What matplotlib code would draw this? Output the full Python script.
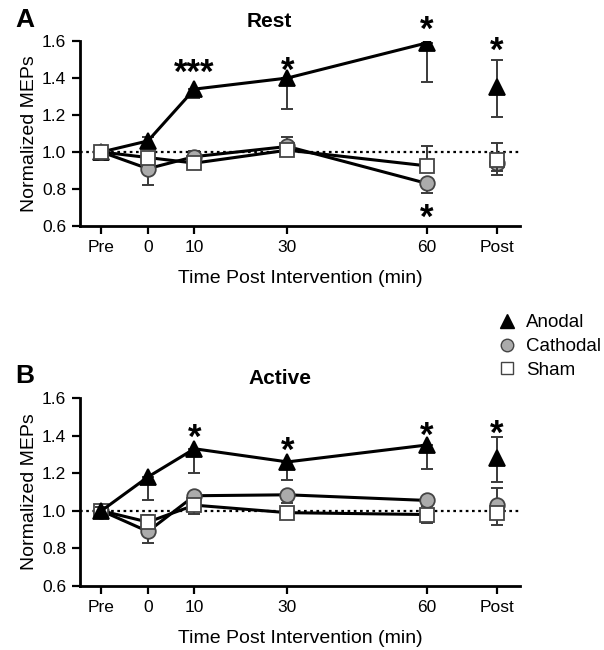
import matplotlib.pyplot as plt
import matplotlib.transforms as mtransforms
from matplotlib.lines import Line2D

plt.rcParams['font.family'] = ['Liberation Sans', 'DejaVu Sans']

# time points (Pre = -10, Post = 75 on the minute axis)
x_pos = [-10, 0, 10, 30, 60, 75]
x_labels = ["Pre", "0", "10", "30", "60", "Post"]

# Rest
rest_anodal = [1.00, 1.06, 1.34, 1.40, 1.59, 1.35]
rest_anodal_lo = [0.02, 0.02, 0.05, 0.17, 0.21, 0.16]
rest_anodal_hi = [0.02, 0.02, 0.00, 0.00, 0.00, 0.15]
rest_cathodal = [1.00, 0.91, 0.975, 1.03, 0.83, 0.94]
rest_cathodal_lo = [0.03, 0.09, 0.03, 0.02, 0.05, 0.065]
rest_cathodal_hi = [0.03, 0.02, 0.03, 0.05, 0.00, 0.00]
rest_sham = [1.00, 0.97, 0.94, 1.01, 0.925, 0.955]
rest_sham_lo = [0.03, 0.02, 0.02, 0.02, 0.00, 0.06]
rest_sham_hi = [0.03, 0.02, 0.02, 0.02, 0.11, 0.095]
rest_stars = [(10, 1.47, "***"), (30, 1.48, "*"), (60, 1.70, "*"),
              (75, 1.59, "*"), (60, 0.685, "*")]

# Active
act_anodal = [1.00, 1.18, 1.33, 1.26, 1.35, 1.28]
act_anodal_lo = [0.02, 0.125, 0.13, 0.095, 0.13, 0.125]
act_anodal_hi = [0.02, 0.00, 0.00, 0.00, 0.00, 0.11]
act_cathodal = [1.00, 0.89, 1.08, 1.085, 1.055, 1.03]
act_cathodal_lo = [0.02, 0.06, 0.03, 0.045, 0.03, 0.00]
act_cathodal_hi = [0.02, 0.00, 0.00, 0.00, 0.00, 0.09]
act_sham = [1.00, 0.94, 1.03, 0.99, 0.98, 0.99]
act_sham_lo = [0.02, 0.02, 0.045, 0.00, 0.045, 0.065]
act_sham_hi = [0.02, 0.04, 0.00, 0.00, 0.00, 0.00]
act_stars = [(10, 1.43, "*"), (30, 1.36, "*"), (60, 1.44, "*"), (75, 1.45, "*")]

STYLES = {
    "Anodal":   dict(marker="^", mfc="black", mec="black", ms=11.5),
    "Cathodal": dict(marker="o", mfc="#ababab", mec="#444444", ms=10.5),
    "Sham":     dict(marker="s", mfc="white", mec="#444444", ms=9.5),
}


def draw_series(ax, name, y, lo, hi, z):
    st = STYLES[name]
    ax.errorbar(x_pos, y, yerr=[lo, hi], fmt="none", ecolor="#3a3a3a",
                elinewidth=1.4, capsize=4, capthick=1.4, zorder=z)
    ax.plot(x_pos[:5], y[:5], color="black", lw=2.2, zorder=z + 0.1)
    ax.plot(x_pos, y, ls="none", mew=1.3, zorder=z + 0.2, **st)


def draw_stars(ax, stars):
    # asterisk glyphs sit high in the em box, nudge them down a little
    shift = mtransforms.offset_copy(ax.transData, fig=ax.figure, y=-8, units="dots")
    for xs, ys, s in stars:
        ax.text(xs, ys, s, ha="center", va="center", fontsize=25,
                fontweight="bold", transform=shift, clip_on=False)


def setup_axes(ax, title, letter, title_x):
    ax.axhline(1.0, color="black", ls=(0, (1.2, 1.6)), lw=1.6, zorder=1)
    ax.set_xlim(-14.6, 80)
    ax.set_ylim(0.6, 1.6)
    ax.set_yticks([0.6, 0.8, 1.0, 1.2, 1.4, 1.6])
    ax.set_yticklabels(["0.6", "0.8", "1.0", "1.2", "1.4", "1.6"])
    ax.set_xticks(x_pos)
    ax.set_xticklabels(x_labels)
    for s in ["top", "right"]:
        ax.spines[s].set_visible(False)
    for s in ["left", "bottom"]:
        ax.spines[s].set_linewidth(2)
    ax.tick_params(width=1.6, length=6, labelsize=12.5, pad=4)
    ax.set_ylabel("Normalized MEPs", fontsize=14, labelpad=3)
    ax.set_xlabel("Time Post Intervention (min)", fontsize=14, labelpad=11)
    ax.set_title(title, fontsize=15, fontweight="bold", x=title_x, pad=10)
    ax.text(-0.148, 1.115, letter, transform=ax.transAxes, fontsize=19,
            fontweight="bold", va="center", ha="left")


fig = plt.figure(figsize=(6.04, 6.5), dpi=100)
ax_a = fig.add_axes([0.1325, 0.6523, 0.7285, 0.2846])
ax_b = fig.add_axes([0.1325, 0.0985, 0.7285, 0.2892])

setup_axes(ax_a, "Rest", "A", 0.43)
draw_series(ax_a, "Anodal", rest_anodal, rest_anodal_lo, rest_anodal_hi, 3)
draw_series(ax_a, "Cathodal", rest_cathodal, rest_cathodal_lo, rest_cathodal_hi, 4)
draw_series(ax_a, "Sham", rest_sham, rest_sham_lo, rest_sham_hi, 5)
draw_stars(ax_a, rest_stars)

setup_axes(ax_b, "Active", "B", 0.455)
draw_series(ax_b, "Cathodal", act_cathodal, act_cathodal_lo, act_cathodal_hi, 3)
draw_series(ax_b, "Sham", act_sham, act_sham_lo, act_sham_hi, 4)
draw_series(ax_b, "Anodal", act_anodal, act_anodal_lo, act_anodal_hi, 5)
draw_stars(ax_b, act_stars)

handles = [Line2D([], [], ls="none", mew=1.0,
                  **dict(STYLES[n], ms=STYLES[n]["ms"] - 1.5))
           for n in ["Anodal", "Cathodal", "Sham"]]
fig.legend(handles, ["Anodal", "Cathodal", "Sham"], loc="upper left",
           bbox_to_anchor=(0.815, 0.528), frameon=False, fontsize=13.5,
           handlelength=0.8, handletextpad=0.6, labelspacing=0.35,
           borderaxespad=0)

fig.savefig("out.png", dpi=100)
